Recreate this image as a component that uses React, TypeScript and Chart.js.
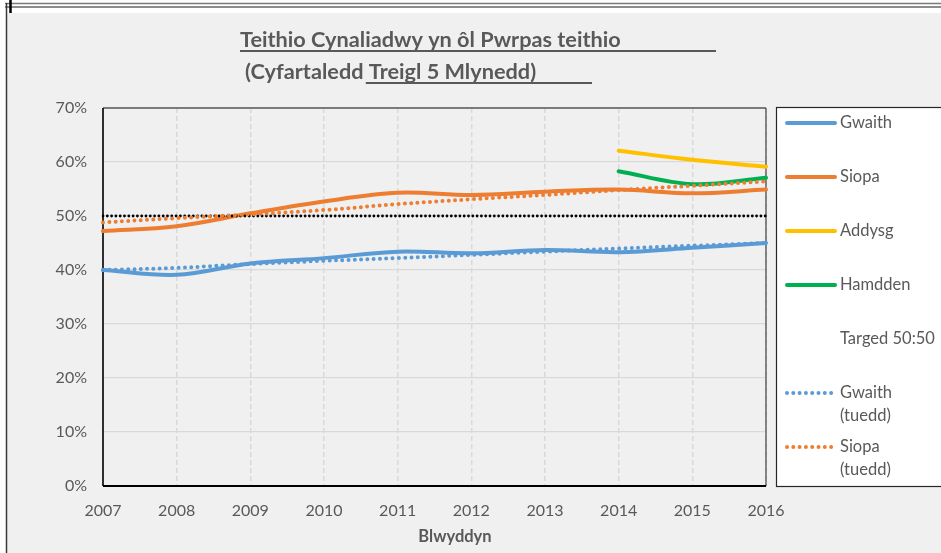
import React, { useEffect, useRef } from "react";
import { Chart, registerables } from "chart.js";

Chart.register(...registerables);

// ---------- data ----------
const years = ["2007", "2008", "2009", "2010", "2011", "2012", "2013", "2014", "2015", "2016"];
const gwaith = [40.0, 39.1, 41.2, 42.2, 43.4, 43.1, 43.7, 43.3, 44.1, 45.0];
const siopa = [47.2, 48.1, 50.5, 52.7, 54.3, 53.9, 54.5, 54.9, 54.2, 54.9];
const addysg = [null, null, null, null, null, null, null, 62.1, 60.4, 59.1];
const hamdden = [null, null, null, null, null, null, null, 58.3, 55.9, 57.1];
const targed = [50, 50, 50, 50, 50, 50, 50, 50, 50, 50];
const gwaithTuedd = [40.0, 40.4, 41.1, 41.7, 42.2, 42.8, 43.4, 44.0, 44.5, 45.0];
const siopaTuedd = [48.8, 49.6, 50.3, 51.1, 52.2, 53.1, 53.9, 54.8, 55.6, 56.4];

const seriesNames = ["Gwaith", "Siopa", "Addysg", "Hamdden", "Targed 50:50", "Gwaith (tuedd)", "Siopa (tuedd)"];
const legendLines = [["Gwaith"], ["Siopa"], ["Addysg"], ["Hamdden"], ["Targed 50:50"], ["Gwaith", "(tuedd)"], ["Siopa", "(tuedd)"]];
const titleLine1 = "Teithio Cynaliadwy yn ôl Pwrpas teithio";
const titleLine2a = "(Cyfartaledd ";
const titleLine2b = "Treigl 5 Mlynedd)";
const xAxisTitle = "Blwyddyn";
const yMin = 0;
const yMax = 70;
const yStep = 10;

// ---------- styles ----------
const BLUE = "#5B9BD5";
const ORANGE = "#ED7D31";
const YELLOW = "#FFC000";
const GREEN = "#00B050";
const TEXT = "#595959";
const FONT = "Lato, 'Open Sans', sans-serif";

const framePlugin = {
  id: "frame",
  beforeDraw(chart: any) {
    const { ctx, width, height } = chart;
    ctx.save();
    ctx.fillStyle = "#ffffff";
    ctx.fillRect(0, 0, width, height);
    ctx.fillStyle = "#f0f0f0";
    ctx.fillRect(7, 13, width - 7, height - 13);
    ctx.strokeStyle = "#7a7a7a";
    ctx.lineWidth = 1.5;
    ctx.beginPath();
    ctx.moveTo(5, 3.5);
    ctx.lineTo(width, 3.5);
    ctx.stroke();
    ctx.strokeStyle = "#1a1a1a";
    ctx.lineWidth = 1.2;
    ctx.beginPath();
    ctx.moveTo(5, 7);
    ctx.lineTo(width, 7);
    ctx.stroke();
    ctx.strokeStyle = "#3a3a3a";
    ctx.lineWidth = 1.5;
    ctx.beginPath();
    ctx.moveTo(6.5, 3);
    ctx.lineTo(6.5, height);
    ctx.stroke();
    ctx.strokeStyle = "#000000";
    ctx.lineWidth = 2.5;
    ctx.beginPath();
    ctx.moveTo(10.5, 0);
    ctx.lineTo(10.5, 13);
    ctx.stroke();
    ctx.restore();
  },
  beforeDatasetsDraw(chart: any) {
    const { ctx, chartArea } = chart;
    const { left, right, top, bottom } = chartArea;
    ctx.save();
    ctx.strokeStyle = "#595959";
    ctx.lineWidth = 1.5;
    ctx.beginPath();
    ctx.moveTo(left, top);
    ctx.lineTo(right, top);
    ctx.stroke();
    ctx.strokeStyle = "#404040";
    ctx.lineWidth = 1.2;
    ctx.beginPath();
    ctx.moveTo(right, top);
    ctx.lineTo(right, bottom);
    ctx.stroke();
    ctx.strokeStyle = "#000000";
    ctx.lineWidth = 1.6;
    ctx.beginPath();
    ctx.moveTo(left, top);
    ctx.lineTo(left, bottom);
    ctx.stroke();
    ctx.lineWidth = 2;
    ctx.beginPath();
    ctx.moveTo(left, bottom);
    ctx.lineTo(right, bottom);
    ctx.stroke();
    ctx.restore();
  },
  afterDraw(chart: any) {
    const { ctx, chartArea } = chart;
    ctx.save();
    // ---- title ----
    ctx.fillStyle = TEXT;
    ctx.strokeStyle = TEXT;
    ctx.textBaseline = "middle";
    ctx.textAlign = "left";
    ctx.font = `bold 20px ${FONT}`;
    const w1 = ctx.measureText(titleLine1).width;
    const size = (20 * 381) / w1;
    ctx.font = `bold ${size}px ${FONT}`;
    ctx.fillText(titleLine1, 240, 40);
    ctx.lineWidth = 1.8;
    ctx.beginPath();
    ctx.moveTo(240, 51);
    ctx.lineTo(716, 51);
    ctx.stroke();
    const x2 = 245;
    ctx.fillText(titleLine2a + titleLine2b, x2, 72);
    const wa = ctx.measureText(titleLine2a).width;
    ctx.beginPath();
    ctx.moveTo(x2 + wa - 3, 83);
    ctx.lineTo(592, 83);
    ctx.stroke();

    // ---- x axis title ----
    ctx.font = `bold 16.5px ${FONT}`;
    ctx.textAlign = "center";
    ctx.fillText(xAxisTitle, 455, 537);

    // ---- legend ----
    const lx = chartArea.right + 10;
    const ly = chartArea.top - 1;
    ctx.fillStyle = "#ffffff";
    ctx.fillRect(lx, ly, 200, chartArea.bottom - ly);
    ctx.strokeStyle = "#262626";
    ctx.lineWidth = 1.2;
    ctx.strokeRect(lx + 0.5, ly + 0.5, 200, chartArea.bottom - ly);
    ctx.font = `16.5px ${FONT}`;
    ctx.textAlign = "left";
    chart.data.datasets.forEach((ds: any, i: number) => {
      const cy = 123 + 54 * i;
      const lines = legendLines[i];
      if (!ds.legendHidden) {
        ctx.save();
        ctx.strokeStyle = ds.borderColor;
        ctx.lineWidth = ds.borderWidth;
        ctx.lineCap = "round";
        ctx.setLineDash(ds.borderDash || []);
        ctx.beginPath();
        ctx.moveTo(lx + 11, cy);
        ctx.lineTo(lx + (ds.borderDash ? 56 : 59), cy);
        ctx.stroke();
        ctx.restore();
      }
      ctx.fillStyle = TEXT;
      lines.forEach((t: string, j: number) => {
        ctx.fillText(t, lx + 64, cy + j * 23);
      });
    });
    ctx.restore();
  },
};

export default function App() {
  const ref = useRef<HTMLCanvasElement>(null);
  useEffect(() => {
    document.body.style.margin = "0";
    const canvas = ref.current!;
    const solid = (label: string, data: any[], color: string, order: number) => ({
      label,
      data,
      borderColor: color,
      backgroundColor: color,
      borderWidth: 4,
      pointRadius: 0,
      tension: 0.35,
      borderCapStyle: "round",
      fill: false,
      order,
    });
    const dotted = (label: string, data: any[], color: string, order: number) => ({
      label,
      data,
      borderColor: color,
      borderWidth: 4,
      borderDash: [0, 6.3],
      borderCapStyle: "round",
      pointRadius: 0,
      tension: 0.35,
      order,
    });
    const chart = new Chart(canvas, {
      type: "line",
      data: {
        labels: years,
        datasets: [
          solid(seriesNames[0], gwaith, BLUE, 9),
          solid(seriesNames[1], siopa, ORANGE, 8),
          solid(seriesNames[2], addysg, YELLOW, 7),
          solid(seriesNames[3], hamdden, GREEN, 6),
          {
            label: seriesNames[4],
            data: targed,
            borderColor: "#000000",
            borderWidth: 2.8,
            borderDash: [0, 4.3],
            borderCapStyle: "round",
            pointRadius: 0,
            tension: 0,
            order: 5,
            legendHidden: true,
          } as any,
          dotted(seriesNames[5], gwaithTuedd, BLUE, 4) as any,
          dotted(seriesNames[6], siopaTuedd, ORANGE, 3) as any,
        ],
      },
      options: {
        responsive: false,
        animation: false,
        devicePixelRatio: 1,
        layout: { padding: { left: 0, right: 175, top: 108, bottom: 0 } },
        plugins: {
          legend: { display: false },
          tooltip: { enabled: false },
          title: { display: false },
        },
        scales: {
          x: {
            type: "category",
            offset: false,
            grid: { display: true, color: "#d9d9d9", lineWidth: 1.5, drawTicks: false },
            border: { display: false, dash: [5, 3] },
            ticks: { color: TEXT, font: { family: FONT, size: 16 }, padding: 15, maxRotation: 0, autoSkip: false },
            afterFit: (s: any) => {
              s.height = 67;
            },
          },
          y: {
            min: yMin,
            max: yMax,
            grid: { color: "#d9d9d9", lineWidth: 1.2, drawTicks: false },
            border: { display: false },
            ticks: {
              stepSize: yStep,
              color: TEXT,
              font: { family: FONT, size: 16 },
              padding: 16,
              callback: (v: any) => `${v}%`,
            },
            afterFit: (s: any) => {
              s.width = 103;
            },
          },
        },
      } as any,
      plugins: [framePlugin],
    });
    return () => chart.destroy();
  }, []);
  return <canvas ref={ref} width={941} height={553} style={{ display: "block", width: 941, height: 553 }} />;
}
